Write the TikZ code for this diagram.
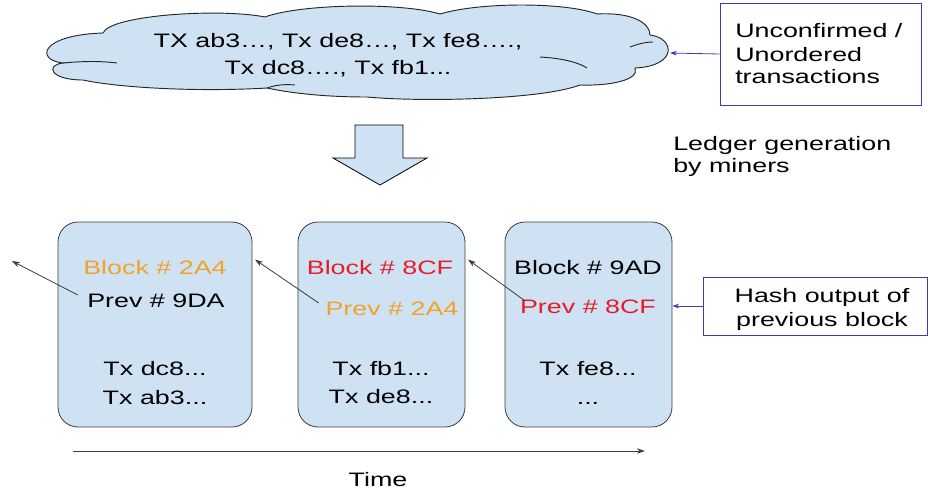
\documentclass[tikz,border=0pt]{standalone}
\usepackage{fontspec}
\setmainfont{Liberation Sans}[FakeStretch=1.38]
\usetikzlibrary{arrows.meta}
\definecolor{lblue}{RGB}{207,226,243}
\definecolor{torange}{RGB}{242,162,40}
\definecolor{tred}{RGB}{228,30,40}
\definecolor{bblue}{RGB}{60,60,175}
\definecolor{dgray}{RGB}{60,60,60}
\newcommand{\tf}{\fontsize{14.6}{17}\selectfont}
\tikzset{
  txt/.style={inner sep=0pt, anchor=base, font=\tf},
  ltxt/.style={inner sep=0pt, anchor=base west, font=\tf},
  blockbox/.style={draw=dgray, fill=lblue, rounded corners=15pt, line width=0.6pt},
  chain/.style={draw=dgray, line width=0.6pt, -{Stealth[length=6pt,width=4pt]}},
  note/.style={draw=bblue, line width=0.6pt},
  noteline/.style={draw=bblue, line width=0.6pt, -{Stealth[length=5pt,width=3.5pt]}},
  cloudline/.style={draw=black!85, line width=0.7pt},
}
\begin{document}
\begin{tikzpicture}[x=0.75pt,y=-0.75pt]
\useasboundingbox (0,0) rectangle (928,490);

% cloud
\draw[cloudline, fill=lblue]
  (63,63) .. controls (35,60) and (40,35) .. (103,33)
  .. controls (110,15) and (220,8) .. (265,17)
  .. controls (300,4) and (400,2) .. (440,14)
  .. controls (480,2) and (565,2) .. (597,14)
  .. controls (630,12) and (650,22) .. (650,35)
  .. controls (675,38) and (678,66) .. (635,68)
  .. controls (640,80) and (610,86) .. (580,85)
  .. controls (540,100) and (420,102) .. (367,97)
  .. controls (330,97) and (295,94) .. (267,88)
  .. controls (200,92) and (120,88) .. (83,80)
  .. controls (50,80) and (45,65) .. (63,63) -- cycle;
\draw[cloudline] (63,63) .. controls (85,61) and (100,61) .. (117,63);
\draw[cloudline] (630,47) .. controls (638,44) and (645,42) .. (653,42);
\draw[cloudline] (540,57) .. controls (560,58) and (578,62) .. (587,68);
\draw[cloudline] (267,88) .. controls (275,85) and (285,84) .. (295,85);
\coordinate (cloudR) at (670,53);
\node[txt] (c1) at (338,47) {TX ab3…, Tx de8…, Tx fe8….,};
\node[txt] (c2) at (338,74) {Tx dc8…., Tx fb1...};

% unconfirmed note
\node[note, minimum width=150.75pt, minimum height=76.5pt, inner sep=0pt] (unc) at (820.5,54) {};
\node[ltxt] (u1) at (735,37) {Unconfirmed /};
\node[ltxt] (u2) at (735,61) {Unordered};
\node[ltxt] (u3) at (735,83) {transactions};
\draw[noteline] (unc.west) -- (cloudR);

% down arrow
\draw[draw=black, fill=lblue, line width=0.6pt]
  (355,125) -- (403,125) -- (403,158) -- (427,158) -- (380,185) -- (333,158) -- (355,158) -- cycle;

\node[ltxt] (l1) at (673,150) {Ledger generation};
\node[ltxt] (l2) at (673,172) {by miners};

% blocks
\node[blockbox, minimum width=145.5pt, minimum height=153.75pt] (b1) at (155,324.5) {};
\node[blockbox, minimum width=125.25pt, minimum height=153.75pt] (b2) at (381.5,324.5) {};
\node[blockbox, minimum width=125.25pt, minimum height=153.75pt] (b3) at (588.5,324.5) {};

\node[txt, text=torange] (h1) at (155,274) {Block \# 2A4};
\node[txt] (p1) at (156,307) {Prev \# 9DA};
\node[txt] (t11) at (155,375) {Tx dc8...};
\node[txt] (t12) at (155,404) {Tx ab3...};

\node[txt, text=tred] (h2) at (380,274) {Block \# 8CF};
\node[txt, text=torange] (p2) at (392,315) {Prev \# 2A4};
\node[txt] (t21) at (381,375) {Tx fb1...};
\node[txt] (t22) at (381,403) {Tx de8...};

\node[txt] (h3) at (588,274) {Block \# 9AD};
\node[txt, text=tred] (p3) at (588,313) {Prev \# 8CF};
\node[txt] (t31) at (588,375) {Tx fe8...};
\node[txt] (t32) at (588,404) {...};

% chain arrows
\coordinate (out) at (12,261);
\draw[chain] ([xshift=-7pt,yshift=4pt]p1.west) -- (out);
\draw[chain] ([xshift=-5pt,yshift=4pt]p2.west) -- ([xshift=2pt]b1.east |- h1.north);
\draw[chain] ([xshift=4pt,yshift=4pt]p3.west) -- ([xshift=2pt]b2.east |- h2.north);

% hash note
\node[note, minimum width=168pt, minimum height=43.5pt, inner sep=0pt] (hash) at (815,306) {};
\node[txt] (hh1) at (822,302) {Hash output of};
\node[txt] (hh2) at (822,326) {previous block};
\draw[noteline] (hash.west) -- (b3.east |- hash.west);

% time axis
\coordinate (ts) at (73,451);
\coordinate (te) at (645,451);
\draw[chain] (ts) -- (te);
\node[txt] (time) at (378,486) {Time};
\end{tikzpicture}
\end{document}
